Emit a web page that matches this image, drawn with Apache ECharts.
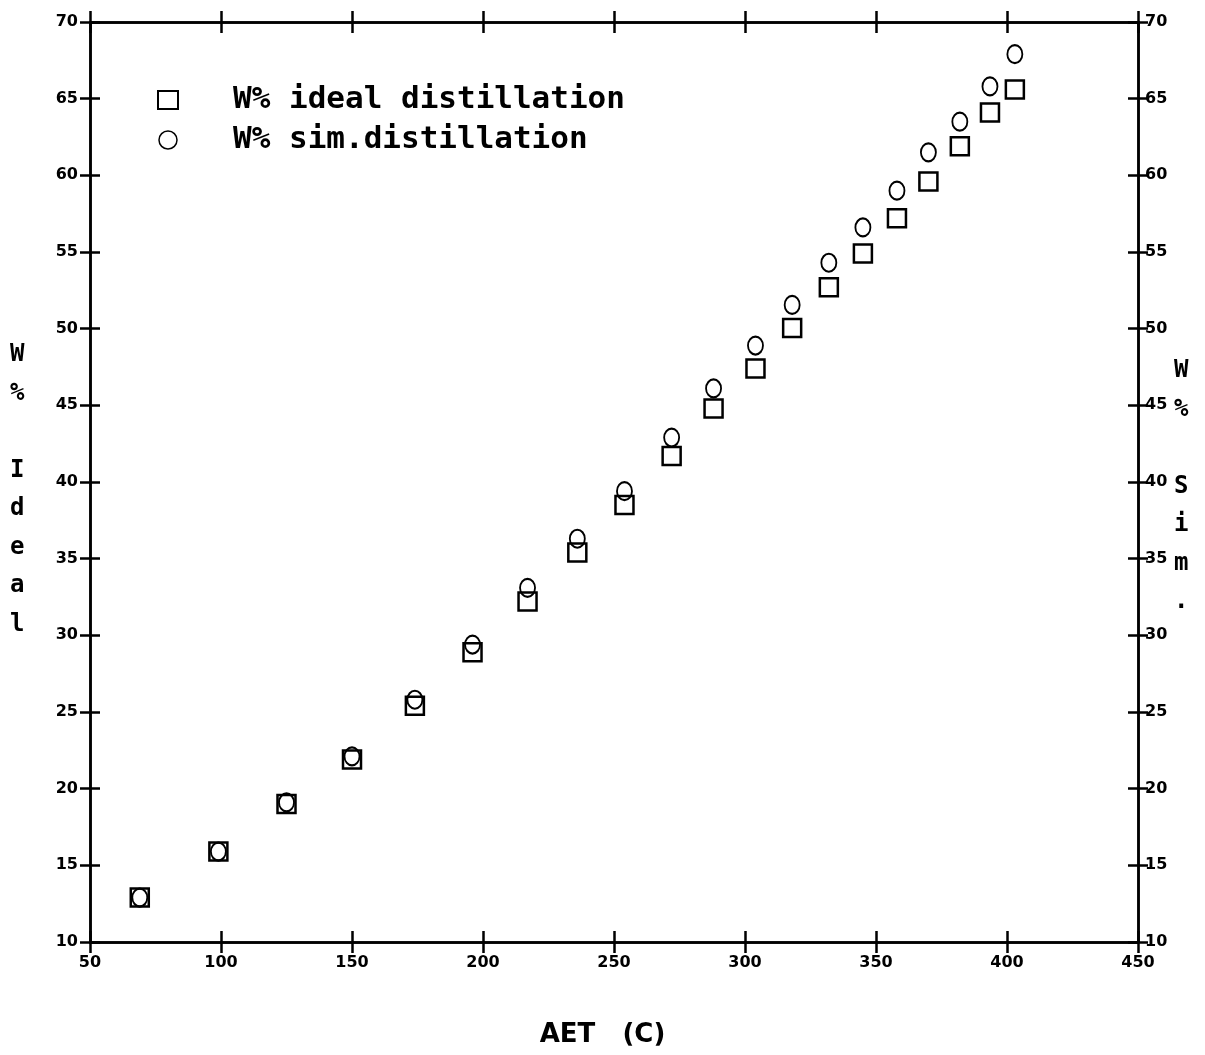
<!DOCTYPE html>
<html>
<head>
<meta charset="utf-8">
<script src="https://cdn.jsdelivr.net/npm/echarts@6/dist/echarts.min.js"></script>
<style>html,body{margin:0;padding:0;background:#fff}#c{width:1205px;height:1055px}</style>
</head>
<body>
<div id="c"></div>
<script>
// AET (C) values
const aet = [69, 99, 125, 150, 174, 196, 217, 236, 254, 272, 288, 304, 318, 332, 345, 358, 370, 382, 393.5, 403];
// W% ideal distillation
const idealW = [12.9, 15.9, 19.0, 21.9, 25.4, 28.9, 32.2, 35.4, 38.5, 41.7, 44.8, 47.4, 50.05, 52.7, 54.9, 57.2, 59.6, 61.9, 64.1, 65.6];
// W% sim.distillation
const simW = [12.9, 15.9, 19.1, 22.1, 25.8, 29.4, 33.1, 36.3, 39.4, 42.9, 46.1, 48.9, 51.55, 54.3, 56.6, 59.0, 61.5, 63.5, 65.8, 67.9];
const seriesNames = ['W% ideal distillation', 'W% sim.distillation'];
const xTitle = 'AET   (C)';
const yLeftTitle = ['W', '%', '', 'I', 'd', 'e', 'a', 'l'];
const yRightTitle = ['W', '%', '', 'S', 'i', 'm', '.'];

const chart = echarts.init(document.getElementById('c'));
const tickFont = {fontFamily: 'DejaVu Sans', fontWeight: 'bold', fontSize: 16, color: '#000'};
const lineStyle = {color: '#000', width: 2.5};
const G = {left: 90, right: 67, top: 22, bottom: 113};

function xAx(gridIndex, position, inside, showLabel) {
  return {type: 'value', gridIndex, position, min: 50, max: 450, interval: 50,
    axisLine: {show: true, onZero: false, lineStyle},
    axisTick: {show: true, inside, length: 11, lineStyle},
    axisLabel: {show: showLabel, margin: 13, ...tickFont},
    splitLine: {show: false}};
}
function yAx(gridIndex, position, inside, showLabel, margin) {
  return {type: 'value', gridIndex, position, min: 10, max: 70, interval: 5,
    axisLine: {show: true, onZero: false, lineStyle},
    axisTick: {show: true, inside, length: 10, lineStyle},
    axisLabel: {show: showLabel, margin, ...tickFont},
    splitLine: {show: false}};
}

const option = {
  animation: false,
  backgroundColor: '#fff',
  grid: [Object.assign({}, G), Object.assign({}, G)],
  xAxis: [xAx(0, 'bottom', false, true), xAx(0, 'top', false, false),
          xAx(1, 'bottom', true, false), xAx(1, 'top', true, false)],
  yAxis: [yAx(0, 'left', false, true, 12), yAx(0, 'right', false, true, 7),
          yAx(1, 'left', true, false, 8), yAx(1, 'right', true, false, 8)],
  legend: {
    orient: 'vertical', left: 152, top: 76, itemGap: 2,
    itemWidth: 20, itemHeight: 18,
    textStyle: {fontFamily: 'DejaVu Sans Mono', fontWeight: 'bold', fontSize: 31, color: '#000', lineHeight: 38, padding: [0, 0, 0, 50]},
    data: [
      {name: seriesNames[0], icon: 'rect', itemStyle: {color: '#fff', borderColor: '#000', borderWidth: 2}},
      {name: seriesNames[1], icon: 'circle', itemStyle: {color: '#fff', borderColor: '#000', borderWidth: 1.5}}
    ]
  },
  series: [
    {name: seriesNames[0], type: 'scatter', xAxisIndex: 0, yAxisIndex: 0,
     symbol: 'rect', symbolSize: 18,
     itemStyle: {color: 'rgba(0,0,0,0)', borderColor: '#000', borderWidth: 2.5, opacity: 1},
     data: aet.map((x, i) => [x, idealW[i]])},
    {name: seriesNames[1], type: 'scatter', xAxisIndex: 0, yAxisIndex: 0,
     symbol: 'circle', symbolSize: [15, 18],
     itemStyle: {color: 'rgba(0,0,0,0)', borderColor: '#000', borderWidth: 2, opacity: 1},
     data: aet.map((x, i) => [x, simW[i]])}
  ],
  graphic: [
    {type: 'text', left: 'center', top: 1022,
     style: {text: xTitle, fontFamily: 'DejaVu Sans', fontWeight: 'bold', fontSize: 26, fill: '#000'}},
    {type: 'text', left: 10, top: 336,
     style: {text: yLeftTitle.join('\n'), fontFamily: 'DejaVu Sans Mono', fontWeight: 'bold', fontSize: 24, lineHeight: 38.5, align: 'left', fill: '#000'}},
    {type: 'text', left: 1174, top: 352,
     style: {text: yRightTitle.join('\n'), fontFamily: 'DejaVu Sans Mono', fontWeight: 'bold', fontSize: 24, lineHeight: 38.5, align: 'left', fill: '#000'}}
  ]
};
chart.setOption(option);
</script>
</body>
</html>
